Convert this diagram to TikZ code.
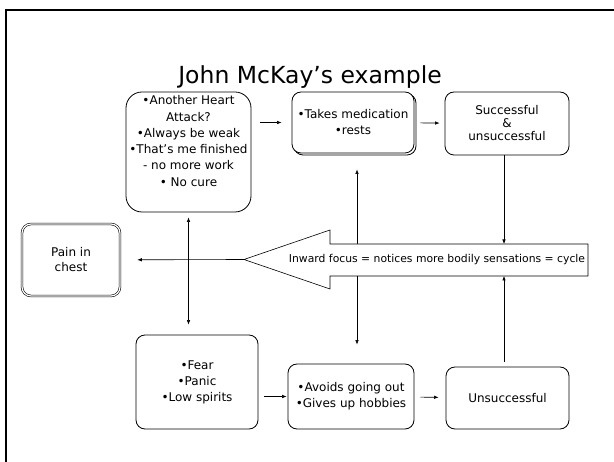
\documentclass[tikz,border=0pt]{standalone}
\usepackage{fontspec}
\setmainfont{DejaVu Sans}
\usetikzlibrary{arrows.meta,shadows}

\begin{document}
\begin{tikzpicture}[x=1pt, y=-1pt]
	\tikzset{box/.style={draw, fill=white, line width=0.8pt, rounded corners=9pt, align=center, inner sep=0pt, font=\fontsize{12}{16}\selectfont}}
	\tikzset{ar/.style={-{Latex[length=4.5pt,width=3.5pt]}, line width=0.6pt}}
	\tikzset{dar/.style={{Latex[length=4.5pt,width=3.5pt]}-{Latex[length=4.5pt,width=3.5pt]}, line width=0.6pt}}
	\useasboundingbox (0,0) rectangle (614,462);
	\draw[line width=2pt] (6,462) -- (6,10) -- (614,10);
	\node[anchor=base, font=\fontsize{23.5}{28}\selectfont] (title) at (310,84) {John McKay’s example};
	\node[box, rounded corners=16pt, minimum width=125pt, minimum height=120pt] (thoughts) at (188.5,152) {};
	\node[align=center, font=\fontsize{12}{16.3}\selectfont] (thoughtstext) at (188.5,141) {•Another Heart\\Attack?\\•Always be weak\\•That’s me finished\\- no more work\\• No cure};
	\node[box, minimum width=122pt, minimum height=61pt, copy shadow={shadow xshift=2pt, shadow yshift=-2pt}] (meds) at (353,122.5) {•Takes medication\\•rests};
	\node[box, minimum width=124pt, minimum height=63pt, font=\fontsize{12}{13}\selectfont] (success) at (507,123.5) {Successful\\\&\\unsuccessful};
	\node[box, double, double distance=1.2pt, line width=0.6pt, minimum width=98pt, minimum height=72pt, font=\fontsize{12}{15}\selectfont] (pain) at (71,260) {Pain in\\chest};
	\node[box, minimum width=122pt, minimum height=94pt] (fear) at (197,382) {•Fear\\•Panic\\•Low spirits};
	\node[box, minimum width=126pt, minimum height=65pt] (avoids) at (351,396.5) {•Avoids going out\\•Gives up hobbies};
	\node[box, minimum width=123pt, minimum height=62pt] (unsucc) at (507.5,398) {Unsuccessful};
	\coordinate (tip) at (244,259.5);
	\coordinate (shafttop) at (504,244);
	\coordinate (shaftbot) at (504,276);
	% line behind the big arrow
	\draw[dar, shorten <=16pt, shorten >=19pt] ([xshift=4pt]meds.south) -- ([xshift=4pt]meds.south |- avoids.north);
	\draw[line width=0.6pt, fill=white] (588,244) -- (330,244) -- (330,230) -- (tip) -- (330,289) -- (330,276) -- (588,276) -- cycle;
	\node[font=\fontsize{10.8}{13}\selectfont] (focus) at (437,260) {Inward focus = notices more bodily sensations = cycle};
	\draw[ar, shorten >=17pt] (tip) -- (pain);
	\draw[dar, shorten <=5pt, shorten >=10pt] (thoughts.south) -- (thoughts.south |- fear.north);
	\draw[ar] (shafttop |- success.south) -- (shafttop);
	\draw[ar, shorten <=5pt] (shaftbot |- unsucc.north) -- (shaftbot);
	\draw[ar, shorten <=9pt, shorten >=10pt] (thoughts.east |- meds) -- (meds);
	\draw[ar, shorten <=6pt, shorten >=5pt] (meds) -- (success);
	\draw[ar, shorten <=6pt, shorten >=1pt] (fear.east |- avoids) -- (avoids);
	\draw[ar, shorten <=6pt, shorten >=7pt] (avoids) -- (unsucc);
\end{tikzpicture}
\end{document}
